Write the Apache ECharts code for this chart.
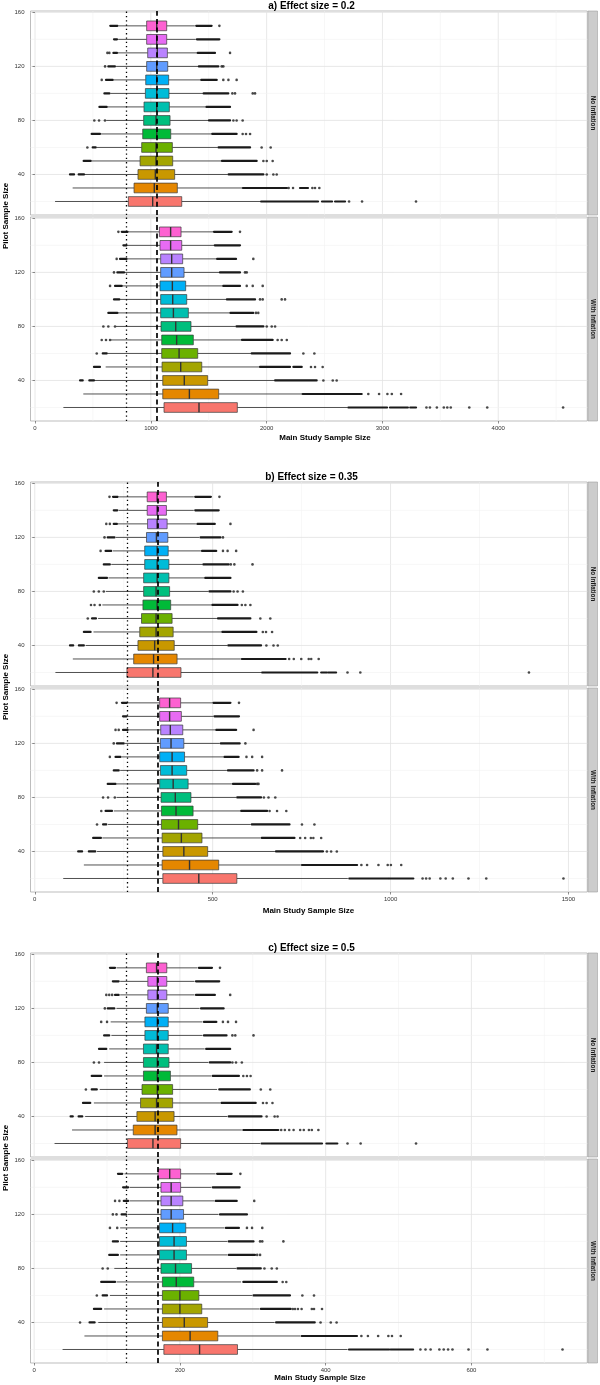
<!DOCTYPE html>
<html><head><meta charset="utf-8">
<script src="https://cdn.jsdelivr.net/npm/echarts@6/dist/echarts.min.js"></script>
<style>html,body{margin:0;padding:0;background:#fff}#c{width:600px;height:1385px}</style>
</head><body><div id="c"></div>
<script>
// ---------------- data ----------------
const pilotSizes = [20,30,40,50,60,70,80,90,100,110,120,130,140,150];
const boxColors = ["#F8766D","#E58700","#C99800","#A3A500","#6BB100","#00BA38","#00BF7D","#00C0AF","#00BCD8","#00B0F6","#619CFF","#B983FF","#E76BF3","#FD61D1"];
const panelTitles = ["a) Effect size = 0.2","b) Effect size = 0.35","c) Effect size = 0.5"];
const facetLabels = ["No Inflation","With Inflation"];
const xAxisTitle = "Main Study Sample Size";
const yAxisTitle = "Pilot Sample Size";
const yTicks = [40,80,120,160];
const yMinorTicks = [20,60,100,140];
const yRange = [10,161];

const aXTicks = [0,1000,2000,3000,4000];
const aXMinor = [500,1500,2500,3500,4500];
const aXRange = [-39,4769];
const aRefLines = [788,1054];
const bXTicks = [0,500,1000,1500];
const bXMinor = [250,750,1250];
const bXRange = [-12,1553];
const bRefLines = [260,346];
const cXTicks = [0,200,400,600];
const cXMinor = [100,300,500,700];
const cXRange = [-5,759];
const cRefLines = [127,170];

// [lowerWhisker, q1, median, q3, upperWhisker] per pilot size (20..150)
const aNoStats = [[173,806,1016,1267,1945],[325,855,1030,1229,1788],[430,889,1039,1206,1665],[490,907,1045,1189,1607],[530,921,1045,1186,1578],[570,930,1051,1172,1523],[615,938,1045,1166,1495],[625,941,1051,1160,1473],[650,953,1051,1157,1450],[680,956,1051,1154,1428],[700,964,1051,1146,1408],[716,973,1056,1143,1398],[718,964,1051,1137,1388],[722,964,1051,1137,1380]];
// outliers: number = single point, [from,to] = dense run of overlapping points
const aNoOut = [
 [[1952,2444],[2478,2565],[2591,2677],2712,2824,3290],
 [[1795,2175],2190,2228,[2288,2357],2395,2418,2455],
 [[302,337],[377,423],[1672,1972],2001,2058,2087],
 [[420,481],[1614,1914],1972,2001,2052],
 [452,[498,524],[1585,1857],1957,2035],
 [[489,561],[1530,1741],1793,1822,1857],
 [512,553,604,[1502,1684],1713,1741,1793],
 [[556,619],[1480,1684]],
 [[599,642],[1456,1669],1704,1727,1880,1900],
 [576,[613,671],[1435,1569],1626,1670,1741],
 [605,[633,690],[1415,1583],1612,1626],
 [625,642,[677,708],[1405,1554],1684],
 [[682,708],[1398,1592]],
 [[650,712],[1392,1525],1592]];
const aWithStats = [[245,1114,1416,1747,2700],[417,1103,1333,1586,2305],[515,1103,1289,1491,2066],[610,1097,1258,1440,1937],[625,1094,1244,1405,1865],[655,1094,1223,1367,1780],[700,1088,1215,1347,1733],[715,1085,1195,1324,1680],[735,1085,1189,1310,1650],[755,1079,1186,1301,1618],[775,1085,1180,1287,1590],[795,1085,1180,1275,1565],[795,1079,1171,1267,1545],[808,1074,1171,1261,1538]];
const aWithOut = [
 [[2706,3040],[3065,3220],[3240,3290],3380,3410,3470,3530,3560,3590,3750,3905,4560],
 [[2311,2821],2878,2971,3043,3081,3161],
 [[389,412],[469,509],[2073,2432],2490,2571,2605],
 [[509,561],[1943,2202],[2231,2303],2383,2418,2484],
 [533,[585,619],[1871,2202],2317,2412],
 [576,613,648,[1787,2052],2095,2130,2174],
 [590,633,691,[1740,1972],2001,2044,2073],
 [[633,711],[1687,1885],1908,1928],
 [[682,728],[1657,1900],1943,1966,2130,2159],
 [648,[691,749],[1625,1770],1828,1880,1966],
 [682,[711,769],[1597,1770],1813,1828],
 [705,[734,790],[1572,1736],1885],
 [[763,790],[1552,1770]],
 [720,[749,800],[1545,1698],1770]];

const bNoStats = [[58,259,332,411,636],[107,278,334,400,579],[143,290,337,392,541],[165,295,341,389,524],[178,300,341,386,512],[190,304,344,382,496],[200,306,341,379,488],[207,306,344,377,476],[215,309,344,377,472],[220,309,344,375,467],[228,314,342,374,462],[234,317,344,372,453],[236,316,344,370,447],[237,316,344,370,447]];
const bNoOut = [
 [[639,794],[805,821],[825,847],879,915,1389],
 [[582,705],715,728,749,770,777,798],
 [[99,108],[124,138],[544,636],651,671,683],
 [[138,157],[527,623],641,650,667],
 [149,[161,172],[515,606],634,662],
 [158,168,183,[499,570],582,592,606],
 [166,180,194,[491,550],559,570,585],
 [[180,203],[479,550]],
 [[194,211],[474,545],551,561,612],
 [185,[199,215],[470,510],529,542,566],
 [196,[205,224],[466,522],529],
 [201,211,[222,231],[457,506],550],
 [[222,232],[451,517]],
 [210,[220,233],[451,495],519]];
const bWithStats = [[80,360,461,568,880],[138,358,435,517,748],[175,360,419,486,675],[190,358,412,470,635],[206,356,404,458,607],[222,356,397,445,577],[230,355,395,439,566],[230,351,389,431,554],[240,353,386,427,540],[245,351,386,421,530],[253,353,383,419,520],[263,354,381,416,507],[260,351,379,412,502],[262,351,379,410,499]];
const bWithOut = [
 [[884,994],[997,1064],1090,1100,1110,1140,1155,1175,1219,1269,1486],
 [[751,906],918,934,966,992,1001,1030],
 [[122,133],[152,170],[678,810],821,833,849],
 [[164,186],[638,730],746,760,776,783,805],
 [175,[192,201],[610,716],751,786],
 [187,[199,217],[580,653],660,681,707],
 [192,206,225,[569,636],644,657,676],
 [[205,227],[557,620],625,629],
 [[222,236],[543,615],625,639,695],
 [211,[227,241],[533,573],595,611,639],
 [222,[231,250],[523,576],592],
 [227,236,[248,261],[510,566],615],
 [[248,258],[505,574]],
 [230,[245,259],[502,550],574]];

const cNoStats = [[28,128,163,201,310],[52,136,166,196,285],[70,141,166,192,265],[82,146,168,190,255],[90,148,169,190,251],[96,150,169,187,243],[96,150,169,185,239],[103,150,168,184,234],[106,152,169,184,231],[105,152,169,184,231],[113,154,169,184,227],[118,156,169,182,220],[118,156,169,182,220],[113,154,168,182,224]];
const cNoOut = [
 [[312,395],[401,416],430,448,524],
 [[287,335],339,344,350,356,365,370,377,381,390],
 [[50,53],[61,66],[267,312],319,330,334],
 [[67,77],[257,304],314,319,327],
 [71,[79,86],[254,296],311,324],
 [[79,92],[245,281],287,292,297],
 [82,89,[241,269],272,277,285],
 [[89,99],[236,269]],
 [[96,103],[233,264],272,276,301],
 [92,100,[233,250],259,266,277],
 [97,[101,110],[229,260]],
 [99,103,107,[111,116],[222,248],269],
 [[108,116],[222,254]],
 [[104,111],[226,244],255]];
const cWithStats = [[39,178,227,279,430],[69,176,214,252,365],[88,176,206,238,330],[96,176,200,230,309],[104,176,200,226,299],[113,176,195,219,284],[110,174,194,216,277],[118,172,192,209,265],[118,172,192,209,265],[118,172,190,208,261],[128,174,188,205,253],[131,174,188,204,247],[131,174,188,201,243],[124,170,186,201,249]];
const cWithOut = [
 [[432,487],[489,520],530,537,544,556,562,568,574,596,622,725],
 [[367,443],449,458,472,486,491,503],
 [63,[76,83],[332,385],393,407,415],
 [[82,92],[311,352],355,358,362,367,381,384,395],
 [86,[94,100],[301,351],368,384],
 [[92,111],[287,333],341,346],
 [94,101,[279,311],316,326,333],
 [[103,115],[267,303],306,310],
 [[108,115],[267,301],310,313,342],
 [104,114,[263,281],292,299,313],
 [108,113,[120,126],[255,292]],
 [111,117,[123,129],[249,278],302],
 [[122,129],[245,282]],
 [[115,121],[251,271],283]];

// ---------------- layout / style ----------------
const FONT = '"Liberation Sans", Arial, sans-serif';
const panelTop = [11, 482, 953];
const facetGap = 206, facetH = 204;
const gridLeft = 30.5, gridW = 556.8;
const xTitlePos = [[325,438],[308.5,910.5],[320,1378]];
const boxHalfUnits = 3.6;

const panels = [
  {title: panelTitles[0], xTicks: aXTicks, xMinor: aXMinor, xRange: aXRange, ref: aRefLines, facets: [[aNoStats,aNoOut],[aWithStats,aWithOut]]},
  {title: panelTitles[1], xTicks: bXTicks, xMinor: bXMinor, xRange: bXRange, ref: bRefLines, facets: [[bNoStats,bNoOut],[bWithStats,bWithOut]]},
  {title: panelTitles[2], xTicks: cXTicks, xMinor: cXMinor, xRange: cXRange, ref: cRefLines, facets: [[cNoStats,cNoOut],[cWithStats,cWithOut]]}
];

function gridRender(params, api) {
  const cs = params.coordSys;
  const kind = api.value(2), major = api.value(3);
  const p = api.coord([api.value(0), api.value(1)]);
  const shape = kind === 0
    ? {x1: p[0], y1: cs.y, x2: p[0], y2: cs.y + cs.height}
    : {x1: cs.x, y1: p[1], x2: cs.x + cs.width, y2: p[1]};
  return {type: 'line', shape, silent: true,
    style: {stroke: major ? '#e2e2e2' : '#f2f2f2', lineWidth: major ? 0.8 : 0.6}};
}
function boxRender(params, api) {
  const s = api.value(0);
  const yc = api.coord([0, s])[1];
  const y1 = api.coord([0, s + boxHalfUnits])[1];
  const y2 = api.coord([0, s - boxHalfUnits])[1];
  const xs = [1,2,3,4,5].map(k => api.coord([api.value(k), s])[0]);
  const color = boxColors[api.value(6)];
  return {type: 'group', children: [
    {type: 'line', shape: {x1: xs[0], y1: yc, x2: xs[1], y2: yc}, style: {stroke: '#333', lineWidth: 0.85}},
    {type: 'line', shape: {x1: xs[3], y1: yc, x2: xs[4], y2: yc}, style: {stroke: '#333', lineWidth: 0.85}},
    {type: 'rect', shape: {x: xs[1], y: y1, width: xs[3] - xs[1], height: y2 - y1}, style: {fill: color, stroke: '#3a3a3a', lineWidth: 0.7}},
    {type: 'line', shape: {x1: xs[2], y1: y1, x2: xs[2], y2: y2}, style: {stroke: '#333', lineWidth: 1.4}}
  ]};
}
function runRender(params, api) {
  const s = api.value(0);
  const a = api.coord([api.value(1), s]), b = api.coord([api.value(2), s]);
  return {type: 'line', shape: {x1: a[0], y1: a[1], x2: b[0], y2: b[1]},
    style: {stroke: '#1a1a1a', lineWidth: 2.2, lineCap: 'round'}};
}

const grid = [], xAxis = [], yAxis = [], series = [], graphic = [];
let gi = 0;
panels.forEach((P, p) => {
  graphic.push({type: 'text', x: 311.5, y: panelTop[p] - 5, silent: true,
    style: {text: P.title, fontSize: 10, fontWeight: 'bold', fontFamily: FONT, fill: '#000', align: 'center', verticalAlign: 'middle'}});
  graphic.push({type: 'text', x: xTitlePos[p][0], y: xTitlePos[p][1], silent: true,
    style: {text: xAxisTitle, fontSize: 8, fontWeight: 'bold', fontFamily: FONT, fill: '#000', align: 'center', verticalAlign: 'middle'}});
  graphic.push({type: 'text', x: 6, y: panelTop[p] + 205, rotation: Math.PI / 2, silent: true,
    style: {text: yAxisTitle, fontSize: 8, fontWeight: 'bold', fontFamily: FONT, fill: '#000', align: 'center', verticalAlign: 'middle'}});
  P.facets.forEach((F, f) => {
    const top = panelTop[p] + f * facetGap;
    grid.push({left: gridLeft, top: top, width: gridW, height: facetH, show: true,
      borderColor: '#a0a0a0', borderWidth: 0.7, backgroundColor: '#fff', containLabel: false, outerBoundsMode: 'none'});
    xAxis.push({type: 'value', gridIndex: gi, min: P.xRange[0], max: P.xRange[1],
      axisLine: {show: false}, splitLine: {show: false},
      axisTick: {show: f === 1, customValues: P.xTicks, length: 2.5, lineStyle: {color: '#444', width: 0.6}},
      axisLabel: {show: f === 1, customValues: P.xTicks, fontSize: 6, color: '#333', margin: 4.5, fontFamily: FONT, formatter: v => String(v)}});
    yAxis.push({type: 'value', gridIndex: gi, min: yRange[0], max: yRange[1],
      axisLine: {show: false}, splitLine: {show: false},
      axisTick: {show: true, customValues: yTicks, length: 2.5, lineStyle: {color: '#444', width: 0.6}},
      axisLabel: {show: true, customValues: yTicks, fontSize: 6, color: '#333', margin: 6, fontFamily: FONT, formatter: v => String(v)}});

    const gl = [];
    P.xMinor.forEach(v => gl.push([v, yRange[0], 0, 0]));
    P.xTicks.forEach(v => gl.push([v, yRange[0], 0, 1]));
    yMinorTicks.forEach(v => gl.push([P.xRange[0], v, 1, 0]));
    yTicks.forEach(v => gl.push([P.xRange[0], v, 1, 1]));
    series.push({type: 'custom', xAxisIndex: gi, yAxisIndex: gi, z: 0, silent: true, animation: false,
      encode: {x: 0, y: 1}, data: gl, renderItem: gridRender});

    const boxData = pilotSizes.map((s, i) => [s].concat(F[0][i], [i]));
    series.push({type: 'custom', xAxisIndex: gi, yAxisIndex: gi, z: 2, silent: true, animation: false,
      encode: {x: [1,2,3,4,5], y: 0}, data: boxData, renderItem: boxRender});

    const runs = [], pts = [];
    F[1].forEach((row, i) => row.forEach(o => {
      if (Array.isArray(o)) runs.push([pilotSizes[i], o[0], o[1]]);
      else pts.push([o, pilotSizes[i]]);
    }));
    series.push({type: 'custom', xAxisIndex: gi, yAxisIndex: gi, z: 3, silent: true, animation: false,
      encode: {x: [1,2], y: 0}, data: runs, renderItem: runRender});
    series.push({type: 'scatter', xAxisIndex: gi, yAxisIndex: gi, z: 3, silent: true, animation: false,
      symbol: 'circle', symbolSize: 2.6, itemStyle: {color: '#1a1a1a'}, data: pts,
      markLine: {silent: true, animation: false, symbol: ['none','none'], label: {show: false},
        data: [
          {xAxis: P.ref[0], lineStyle: {type: [1.3, 3], width: 1.3, color: '#000'}},
          {xAxis: P.ref[1], lineStyle: {type: [5, 3.3], width: 1.7, color: '#000'}}
        ]}});

    graphic.push({type: 'rect', silent: true, shape: {x: 588, y: top, width: 9.5, height: facetH},
      style: {fill: '#cccccc', stroke: '#a0a0a0', lineWidth: 0.6}});
    graphic.push({type: 'text', x: 592.8, y: top + facetH / 2, rotation: -Math.PI / 2, silent: true,
      style: {text: facetLabels[f], fontSize: 6.3, fontWeight: 'bold', fontFamily: FONT, fill: '#1a1a1a', align: 'center', verticalAlign: 'middle'}});
    gi++;
  });
});

const chart = echarts.init(document.getElementById('c'), null, {renderer: 'canvas'});
chart.setOption({animation: false, backgroundColor: '#fff', grid, xAxis, yAxis, series, graphic});
</script>
</body></html>
